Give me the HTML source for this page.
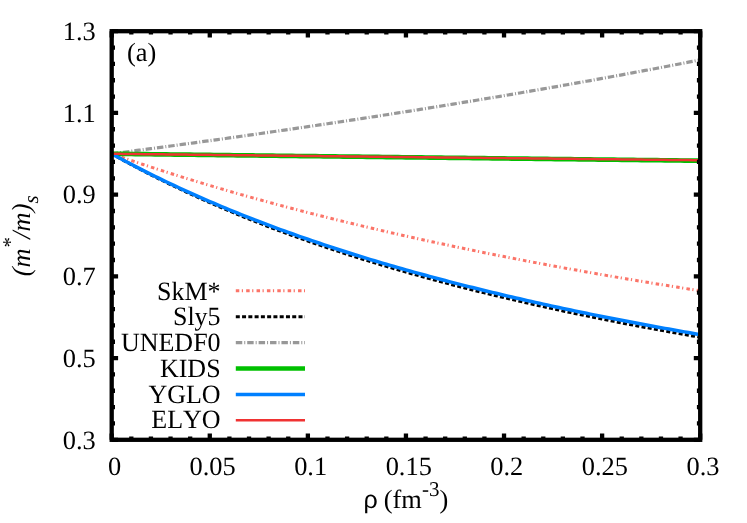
<!DOCTYPE html>
<html><head><meta charset="utf-8"><title>chart</title>
<style>
html,body{margin:0;padding:0;background:#fff;}
svg{display:block;will-change:transform;}
text{font-family:"Liberation Serif",serif;font-size:26.4px;fill:#000;text-rendering:geometricPrecision;font-kerning:none;}
.skm{stroke:#fb7468;stroke-width:3;stroke-dasharray:3.5 2.5 1.2 3.17;fill:none;}
.sly{stroke:#000;stroke-width:3.0;stroke-dasharray:4 2.29;fill:none;}
.une{stroke:#989898;stroke-width:3.2;stroke-dasharray:6.45 2 1 1.96;fill:none;}
.kid{stroke:#00c000;stroke-width:4.7;fill:none;}
.ygl{stroke:#0080ff;stroke-width:3.5;fill:none;}
.ely{stroke:#f03232;stroke-width:2.5;fill:none;}
.b{stroke:#000;stroke-width:4.3;fill:none;}
</style></head><body>
<svg width="747" height="523" viewBox="0 0 747 523">
<rect width="747" height="523" fill="#fff"/>
<defs><clipPath id="c"><rect x="111.70" y="31.20" width="588.50" height="408.60"/></clipPath></defs>
<g clip-path="url(#c)">
<path class="skm" d="M111.70,153.78 L115.62,155.15 L119.55,156.51 L123.47,157.86 L127.39,159.20 L131.32,160.54 L135.24,161.86 L139.16,163.17 L143.09,164.48 L147.01,165.78 L150.93,167.07 L154.86,168.35 L158.78,169.63 L162.70,170.89 L166.63,172.15 L170.55,173.40 L174.47,174.64 L178.40,175.87 L182.32,177.10 L186.24,178.31 L190.17,179.52 L194.09,180.73 L198.01,181.92 L201.94,183.11 L205.86,184.29 L209.78,185.46 L213.71,186.63 L217.63,187.78 L221.55,188.93 L225.48,190.08 L229.40,191.22 L233.32,192.35 L237.25,193.47 L241.17,194.59 L245.09,195.70 L249.02,196.80 L252.94,197.89 L256.86,198.98 L260.79,200.07 L264.71,201.14 L268.63,202.21 L272.56,203.28 L276.48,204.34 L280.40,205.39 L284.33,206.43 L288.25,207.47 L292.17,208.51 L296.10,209.53 L300.02,210.56 L303.94,211.57 L307.87,212.58 L311.79,213.59 L315.71,214.58 L319.64,215.58 L323.56,216.56 L327.48,217.54 L331.41,218.52 L335.33,219.49 L339.25,220.45 L343.18,221.41 L347.10,222.37 L351.02,223.32 L354.95,224.26 L358.87,225.20 L362.79,226.13 L366.72,227.06 L370.64,227.98 L374.56,228.90 L378.49,229.81 L382.41,230.72 L386.33,231.62 L390.26,232.52 L394.18,233.41 L398.10,234.30 L402.03,235.18 L405.95,236.06 L409.87,236.94 L413.80,237.80 L417.72,238.67 L421.64,239.53 L425.57,240.38 L429.49,241.23 L433.41,242.08 L437.34,242.92 L441.26,243.76 L445.18,244.59 L449.11,245.42 L453.03,246.25 L456.95,247.07 L460.88,247.88 L464.80,248.69 L468.72,249.50 L472.65,250.31 L476.57,251.11 L480.49,251.90 L484.42,252.69 L488.34,253.48 L492.26,254.26 L496.19,255.04 L500.11,255.82 L504.03,256.59 L507.96,257.35 L511.88,258.12 L515.80,258.88 L519.73,259.63 L523.65,260.39 L527.57,261.14 L531.50,261.88 L535.42,262.62 L539.34,263.36 L543.27,264.09 L547.19,264.82 L551.11,265.55 L555.04,266.27 L558.96,266.99 L562.88,267.71 L566.81,268.42 L570.73,269.13 L574.65,269.84 L578.58,270.54 L582.50,271.24 L586.42,271.93 L590.35,272.63 L594.27,273.32 L598.19,274.00 L602.12,274.68 L606.04,275.36 L609.96,276.04 L613.89,276.71 L617.81,277.38 L621.73,278.05 L625.66,278.71 L629.58,279.37 L633.50,280.03 L637.43,280.69 L641.35,281.34 L645.27,281.99 L649.20,282.63 L653.12,283.27 L657.04,283.91 L660.97,284.55 L664.89,285.18 L668.81,285.81 L672.74,286.44 L676.66,287.07 L680.58,287.69 L684.51,288.31 L688.43,288.93 L692.35,289.54 L696.28,290.15 L700.20,290.76"/>
<path class="sly" d="M111.70,153.78 L115.62,155.99 L119.55,158.17 L123.47,160.33 L127.39,162.47 L131.32,164.59 L135.24,166.68 L139.16,168.75 L143.09,170.80 L147.01,172.83 L150.93,174.84 L154.86,176.83 L158.78,178.79 L162.70,180.74 L166.63,182.67 L170.55,184.57 L174.47,186.46 L178.40,188.33 L182.32,190.19 L186.24,192.02 L190.17,193.83 L194.09,195.63 L198.01,197.41 L201.94,199.17 L205.86,200.92 L209.78,202.65 L213.71,204.36 L217.63,206.06 L221.55,207.74 L225.48,209.40 L229.40,211.05 L233.32,212.69 L237.25,214.31 L241.17,215.91 L245.09,217.50 L249.02,219.07 L252.94,220.63 L256.86,222.18 L260.79,223.71 L264.71,225.23 L268.63,226.74 L272.56,228.23 L276.48,229.71 L280.40,231.17 L284.33,232.62 L288.25,234.06 L292.17,235.49 L296.10,236.91 L300.02,238.31 L303.94,239.70 L307.87,241.08 L311.79,242.44 L315.71,243.80 L319.64,245.14 L323.56,246.48 L327.48,247.80 L331.41,249.11 L335.33,250.41 L339.25,251.70 L343.18,252.98 L347.10,254.24 L351.02,255.50 L354.95,256.75 L358.87,257.99 L362.79,259.21 L366.72,260.43 L370.64,261.64 L374.56,262.84 L378.49,264.03 L382.41,265.20 L386.33,266.37 L390.26,267.54 L394.18,268.69 L398.10,269.83 L402.03,270.96 L405.95,272.09 L409.87,273.20 L413.80,274.31 L417.72,275.41 L421.64,276.50 L425.57,277.59 L429.49,278.66 L433.41,279.73 L437.34,280.79 L441.26,281.84 L445.18,282.88 L449.11,283.91 L453.03,284.94 L456.95,285.96 L460.88,286.97 L464.80,287.98 L468.72,288.98 L472.65,289.97 L476.57,290.95 L480.49,291.93 L484.42,292.90 L488.34,293.86 L492.26,294.81 L496.19,295.76 L500.11,296.70 L504.03,297.64 L507.96,298.57 L511.88,299.49 L515.80,300.41 L519.73,301.32 L523.65,302.22 L527.57,303.12 L531.50,304.01 L535.42,304.89 L539.34,305.77 L543.27,306.64 L547.19,307.51 L551.11,308.37 L555.04,309.23 L558.96,310.08 L562.88,310.92 L566.81,311.76 L570.73,312.59 L574.65,313.42 L578.58,314.24 L582.50,315.06 L586.42,315.87 L590.35,316.67 L594.27,317.47 L598.19,318.27 L602.12,319.06 L606.04,319.84 L609.96,320.62 L613.89,321.40 L617.81,322.17 L621.73,322.93 L625.66,323.69 L629.58,324.45 L633.50,325.20 L637.43,325.94 L641.35,326.68 L645.27,327.42 L649.20,328.15 L653.12,328.88 L657.04,329.60 L660.97,330.32 L664.89,331.04 L668.81,331.74 L672.74,332.45 L676.66,333.15 L680.58,333.85 L684.51,334.54 L688.43,335.23 L692.35,335.91 L696.28,336.59 L700.20,337.27"/>
<path class="une" d="M111.70,153.78 L115.62,153.27 L119.55,152.76 L123.47,152.25 L127.39,151.73 L131.32,151.22 L135.24,150.70 L139.16,150.19 L143.09,149.67 L147.01,149.15 L150.93,148.63 L154.86,148.10 L158.78,147.58 L162.70,147.05 L166.63,146.53 L170.55,146.00 L174.47,145.47 L178.40,144.94 L182.32,144.41 L186.24,143.87 L190.17,143.34 L194.09,142.80 L198.01,142.27 L201.94,141.73 L205.86,141.19 L209.78,140.65 L213.71,140.10 L217.63,139.56 L221.55,139.01 L225.48,138.46 L229.40,137.92 L233.32,137.37 L237.25,136.81 L241.17,136.26 L245.09,135.71 L249.02,135.15 L252.94,134.59 L256.86,134.04 L260.79,133.48 L264.71,132.91 L268.63,132.35 L272.56,131.79 L276.48,131.22 L280.40,130.65 L284.33,130.08 L288.25,129.51 L292.17,128.94 L296.10,128.37 L300.02,127.79 L303.94,127.22 L307.87,126.64 L311.79,126.06 L315.71,125.48 L319.64,124.89 L323.56,124.31 L327.48,123.72 L331.41,123.14 L335.33,122.55 L339.25,121.96 L343.18,121.36 L347.10,120.77 L351.02,120.18 L354.95,119.58 L358.87,118.98 L362.79,118.38 L366.72,117.78 L370.64,117.17 L374.56,116.57 L378.49,115.96 L382.41,115.35 L386.33,114.74 L390.26,114.13 L394.18,113.52 L398.10,112.90 L402.03,112.29 L405.95,111.67 L409.87,111.05 L413.80,110.43 L417.72,109.80 L421.64,109.18 L425.57,108.55 L429.49,107.92 L433.41,107.29 L437.34,106.66 L441.26,106.02 L445.18,105.39 L449.11,104.75 L453.03,104.11 L456.95,103.47 L460.88,102.83 L464.80,102.18 L468.72,101.54 L472.65,100.89 L476.57,100.24 L480.49,99.58 L484.42,98.93 L488.34,98.27 L492.26,97.62 L496.19,96.96 L500.11,96.30 L504.03,95.63 L507.96,94.97 L511.88,94.30 L515.80,93.63 L519.73,92.96 L523.65,92.29 L527.57,91.61 L531.50,90.94 L535.42,90.26 L539.34,89.58 L543.27,88.89 L547.19,88.21 L551.11,87.52 L555.04,86.83 L558.96,86.14 L562.88,85.45 L566.81,84.76 L570.73,84.06 L574.65,83.36 L578.58,82.66 L582.50,81.96 L586.42,81.25 L590.35,80.55 L594.27,79.84 L598.19,79.13 L602.12,78.41 L606.04,77.70 L609.96,76.98 L613.89,76.26 L617.81,75.54 L621.73,74.82 L625.66,74.09 L629.58,73.36 L633.50,72.63 L637.43,71.90 L641.35,71.17 L645.27,70.43 L649.20,69.69 L653.12,68.95 L657.04,68.21 L660.97,67.46 L664.89,66.71 L668.81,65.96 L672.74,65.21 L676.66,64.45 L680.58,63.70 L684.51,62.94 L688.43,62.18 L692.35,61.41 L696.28,60.65 L700.20,59.88"/>
<path class="kid" d="M111.70,153.78 L115.62,153.83 L119.55,153.87 L123.47,153.92 L127.39,153.97 L131.32,154.02 L135.24,154.06 L139.16,154.11 L143.09,154.16 L147.01,154.20 L150.93,154.25 L154.86,154.30 L158.78,154.34 L162.70,154.39 L166.63,154.44 L170.55,154.48 L174.47,154.53 L178.40,154.58 L182.32,154.63 L186.24,154.67 L190.17,154.72 L194.09,154.77 L198.01,154.81 L201.94,154.86 L205.86,154.91 L209.78,154.95 L213.71,155.00 L217.63,155.05 L221.55,155.09 L225.48,155.14 L229.40,155.19 L233.32,155.23 L237.25,155.28 L241.17,155.33 L245.09,155.37 L249.02,155.42 L252.94,155.47 L256.86,155.51 L260.79,155.56 L264.71,155.61 L268.63,155.65 L272.56,155.70 L276.48,155.75 L280.40,155.79 L284.33,155.84 L288.25,155.89 L292.17,155.93 L296.10,155.98 L300.02,156.03 L303.94,156.07 L307.87,156.12 L311.79,156.17 L315.71,156.21 L319.64,156.26 L323.56,156.31 L327.48,156.35 L331.41,156.40 L335.33,156.45 L339.25,156.49 L343.18,156.54 L347.10,156.58 L351.02,156.63 L354.95,156.68 L358.87,156.72 L362.79,156.77 L366.72,156.82 L370.64,156.86 L374.56,156.91 L378.49,156.96 L382.41,157.00 L386.33,157.05 L390.26,157.09 L394.18,157.14 L398.10,157.19 L402.03,157.23 L405.95,157.28 L409.87,157.33 L413.80,157.37 L417.72,157.42 L421.64,157.47 L425.57,157.51 L429.49,157.56 L433.41,157.60 L437.34,157.65 L441.26,157.70 L445.18,157.74 L449.11,157.79 L453.03,157.83 L456.95,157.88 L460.88,157.93 L464.80,157.97 L468.72,158.02 L472.65,158.07 L476.57,158.11 L480.49,158.16 L484.42,158.20 L488.34,158.25 L492.26,158.30 L496.19,158.34 L500.11,158.39 L504.03,158.43 L507.96,158.48 L511.88,158.53 L515.80,158.57 L519.73,158.62 L523.65,158.66 L527.57,158.71 L531.50,158.76 L535.42,158.80 L539.34,158.85 L543.27,158.89 L547.19,158.94 L551.11,158.98 L555.04,159.03 L558.96,159.08 L562.88,159.12 L566.81,159.17 L570.73,159.21 L574.65,159.26 L578.58,159.31 L582.50,159.35 L586.42,159.40 L590.35,159.44 L594.27,159.49 L598.19,159.53 L602.12,159.58 L606.04,159.63 L609.96,159.67 L613.89,159.72 L617.81,159.76 L621.73,159.81 L625.66,159.85 L629.58,159.90 L633.50,159.95 L637.43,159.99 L641.35,160.04 L645.27,160.08 L649.20,160.13 L653.12,160.17 L657.04,160.22 L660.97,160.27 L664.89,160.31 L668.81,160.36 L672.74,160.40 L676.66,160.45 L680.58,160.49 L684.51,160.54 L688.43,160.58 L692.35,160.63 L696.28,160.68 L700.20,160.72"/>
<path class="ygl" d="M111.70,153.78 L115.62,155.93 L119.55,158.06 L123.47,160.17 L127.39,162.25 L131.32,164.31 L135.24,166.35 L139.16,168.38 L143.09,170.38 L147.01,172.36 L150.93,174.32 L154.86,176.26 L158.78,178.18 L162.70,180.08 L166.63,181.96 L170.55,183.83 L174.47,185.68 L178.40,187.51 L182.32,189.32 L186.24,191.11 L190.17,192.89 L194.09,194.65 L198.01,196.39 L201.94,198.12 L205.86,199.83 L209.78,201.52 L213.71,203.20 L217.63,204.86 L221.55,206.51 L225.48,208.14 L229.40,209.76 L233.32,211.36 L237.25,212.95 L241.17,214.53 L245.09,216.09 L249.02,217.63 L252.94,219.17 L256.86,220.69 L260.79,222.19 L264.71,223.68 L268.63,225.16 L272.56,226.63 L276.48,228.08 L280.40,229.52 L284.33,230.95 L288.25,232.37 L292.17,233.77 L296.10,235.17 L300.02,236.55 L303.94,237.92 L307.87,239.27 L311.79,240.62 L315.71,241.96 L319.64,243.28 L323.56,244.59 L327.48,245.90 L331.41,247.19 L335.33,248.47 L339.25,249.74 L343.18,251.00 L347.10,252.25 L351.02,253.49 L354.95,254.72 L358.87,255.94 L362.79,257.16 L366.72,258.36 L370.64,259.55 L374.56,260.73 L378.49,261.91 L382.41,263.07 L386.33,264.23 L390.26,265.37 L394.18,266.51 L398.10,267.64 L402.03,268.76 L405.95,269.88 L409.87,270.98 L413.80,272.07 L417.72,273.16 L421.64,274.24 L425.57,275.31 L429.49,276.38 L433.41,277.43 L437.34,278.48 L441.26,279.52 L445.18,280.55 L449.11,281.58 L453.03,282.59 L456.95,283.60 L460.88,284.61 L464.80,285.60 L468.72,286.59 L472.65,287.57 L476.57,288.55 L480.49,289.52 L484.42,290.48 L488.34,291.43 L492.26,292.38 L496.19,293.32 L500.11,294.25 L504.03,295.18 L507.96,296.10 L511.88,297.02 L515.80,297.93 L519.73,298.83 L523.65,299.73 L527.57,300.62 L531.50,301.50 L535.42,302.38 L539.34,303.25 L543.27,304.12 L547.19,304.98 L551.11,305.84 L555.04,306.68 L558.96,307.53 L562.88,308.37 L566.81,309.20 L570.73,310.03 L574.65,310.85 L578.58,311.67 L582.50,312.48 L586.42,313.28 L590.35,314.09 L594.27,314.88 L598.19,315.67 L602.12,316.46 L606.04,317.24 L609.96,318.01 L613.89,318.79 L617.81,319.55 L621.73,320.31 L625.66,321.07 L629.58,321.82 L633.50,322.57 L637.43,323.31 L641.35,324.05 L645.27,324.78 L649.20,325.51 L653.12,326.24 L657.04,326.96 L660.97,327.67 L664.89,328.38 L668.81,329.09 L672.74,329.79 L676.66,330.49 L680.58,331.19 L684.51,331.88 L688.43,332.56 L692.35,333.24 L696.28,333.92 L700.20,334.60"/>
<path class="ely" d="M111.70,153.78 L115.62,153.82 L119.55,153.87 L123.47,153.91 L127.39,153.95 L131.32,154.00 L135.24,154.04 L139.16,154.09 L143.09,154.13 L147.01,154.17 L150.93,154.22 L154.86,154.26 L158.78,154.30 L162.70,154.35 L166.63,154.39 L170.55,154.43 L174.47,154.48 L178.40,154.52 L182.32,154.57 L186.24,154.61 L190.17,154.65 L194.09,154.70 L198.01,154.74 L201.94,154.78 L205.86,154.83 L209.78,154.87 L213.71,154.91 L217.63,154.96 L221.55,155.00 L225.48,155.04 L229.40,155.09 L233.32,155.13 L237.25,155.17 L241.17,155.22 L245.09,155.26 L249.02,155.30 L252.94,155.35 L256.86,155.39 L260.79,155.43 L264.71,155.48 L268.63,155.52 L272.56,155.56 L276.48,155.61 L280.40,155.65 L284.33,155.69 L288.25,155.74 L292.17,155.78 L296.10,155.82 L300.02,155.87 L303.94,155.91 L307.87,155.95 L311.79,156.00 L315.71,156.04 L319.64,156.08 L323.56,156.13 L327.48,156.17 L331.41,156.21 L335.33,156.26 L339.25,156.30 L343.18,156.34 L347.10,156.39 L351.02,156.43 L354.95,156.47 L358.87,156.52 L362.79,156.56 L366.72,156.60 L370.64,156.65 L374.56,156.69 L378.49,156.73 L382.41,156.77 L386.33,156.82 L390.26,156.86 L394.18,156.90 L398.10,156.95 L402.03,156.99 L405.95,157.03 L409.87,157.08 L413.80,157.12 L417.72,157.16 L421.64,157.20 L425.57,157.25 L429.49,157.29 L433.41,157.33 L437.34,157.38 L441.26,157.42 L445.18,157.46 L449.11,157.51 L453.03,157.55 L456.95,157.59 L460.88,157.63 L464.80,157.68 L468.72,157.72 L472.65,157.76 L476.57,157.81 L480.49,157.85 L484.42,157.89 L488.34,157.93 L492.26,157.98 L496.19,158.02 L500.11,158.06 L504.03,158.11 L507.96,158.15 L511.88,158.19 L515.80,158.23 L519.73,158.28 L523.65,158.32 L527.57,158.36 L531.50,158.41 L535.42,158.45 L539.34,158.49 L543.27,158.53 L547.19,158.58 L551.11,158.62 L555.04,158.66 L558.96,158.70 L562.88,158.75 L566.81,158.79 L570.73,158.83 L574.65,158.87 L578.58,158.92 L582.50,158.96 L586.42,159.00 L590.35,159.05 L594.27,159.09 L598.19,159.13 L602.12,159.17 L606.04,159.22 L609.96,159.26 L613.89,159.30 L617.81,159.34 L621.73,159.39 L625.66,159.43 L629.58,159.47 L633.50,159.51 L637.43,159.56 L641.35,159.60 L645.27,159.64 L649.20,159.68 L653.12,159.73 L657.04,159.77 L660.97,159.81 L664.89,159.85 L668.81,159.90 L672.74,159.94 L676.66,159.98 L680.58,160.02 L684.51,160.06 L688.43,160.11 L692.35,160.15 L696.28,160.19 L700.20,160.23"/>
</g>
<path class="skm" d="M235.8,290.70 L305,290.70"/>
<text transform="translate(220.6,299.75) scale(0.985,1)" text-anchor="end">SkM*</text>
<path class="sly" style="stroke-dasharray:4 2.27" d="M235.8,316.63 L305,316.63"/>
<text transform="translate(220.6,325.47) scale(0.985,1)" text-anchor="end">Sly5</text>
<path class="une" d="M235.8,342.56 L305,342.56"/>
<text transform="translate(220.6,351.19) scale(0.985,1)" text-anchor="end">UNEDF0</text>
<path class="kid" d="M235.8,368.49 L305,368.49"/>
<text transform="translate(220.6,376.91) scale(0.985,1)" text-anchor="end">KIDS</text>
<path class="ygl" d="M235.8,394.42 L305,394.42"/>
<text transform="translate(220.6,402.63) scale(0.985,1)" text-anchor="end">YGLO</text>
<path class="ely" d="M235.8,420.35 L305,420.35"/>
<text transform="translate(220.6,428.35) scale(0.985,1)" text-anchor="end">ELYO</text>
<path class="b" d="M111.70,439.8 v-6.4 M111.70,31.2 v6.4 M131.32,439.8 v-3.3 M131.32,31.2 v3.3 M150.93,439.8 v-3.3 M150.93,31.2 v3.3 M170.55,439.8 v-3.3 M170.55,31.2 v3.3 M190.17,439.8 v-3.3 M190.17,31.2 v3.3 M209.78,439.8 v-6.4 M209.78,31.2 v6.4 M229.40,439.8 v-3.3 M229.40,31.2 v3.3 M249.02,439.8 v-3.3 M249.02,31.2 v3.3 M268.63,439.8 v-3.3 M268.63,31.2 v3.3 M288.25,439.8 v-3.3 M288.25,31.2 v3.3 M307.87,439.8 v-6.4 M307.87,31.2 v6.4 M327.48,439.8 v-3.3 M327.48,31.2 v3.3 M347.10,439.8 v-3.3 M347.10,31.2 v3.3 M366.72,439.8 v-3.3 M366.72,31.2 v3.3 M386.33,439.8 v-3.3 M386.33,31.2 v3.3 M405.95,439.8 v-6.4 M405.95,31.2 v6.4 M425.57,439.8 v-3.3 M425.57,31.2 v3.3 M445.18,439.8 v-3.3 M445.18,31.2 v3.3 M464.80,439.8 v-3.3 M464.80,31.2 v3.3 M484.42,439.8 v-3.3 M484.42,31.2 v3.3 M504.03,439.8 v-6.4 M504.03,31.2 v6.4 M523.65,439.8 v-3.3 M523.65,31.2 v3.3 M543.27,439.8 v-3.3 M543.27,31.2 v3.3 M562.88,439.8 v-3.3 M562.88,31.2 v3.3 M582.50,439.8 v-3.3 M582.50,31.2 v3.3 M602.12,439.8 v-6.4 M602.12,31.2 v6.4 M621.73,439.8 v-3.3 M621.73,31.2 v3.3 M641.35,439.8 v-3.3 M641.35,31.2 v3.3 M660.97,439.8 v-3.3 M660.97,31.2 v3.3 M680.58,439.8 v-3.3 M680.58,31.2 v3.3 M700.20,439.8 v-6.4 M700.20,31.2 v6.4 M111.7,439.80 h6.4 M700.2,439.80 h-6.4 M111.7,423.46 h3.3 M700.2,423.46 h-3.3 M111.7,407.11 h3.3 M700.2,407.11 h-3.3 M111.7,390.77 h3.3 M700.2,390.77 h-3.3 M111.7,374.42 h3.3 M700.2,374.42 h-3.3 M111.7,358.08 h6.4 M700.2,358.08 h-6.4 M111.7,341.74 h3.3 M700.2,341.74 h-3.3 M111.7,325.39 h3.3 M700.2,325.39 h-3.3 M111.7,309.05 h3.3 M700.2,309.05 h-3.3 M111.7,292.70 h3.3 M700.2,292.70 h-3.3 M111.7,276.36 h6.4 M700.2,276.36 h-6.4 M111.7,260.02 h3.3 M700.2,260.02 h-3.3 M111.7,243.67 h3.3 M700.2,243.67 h-3.3 M111.7,227.33 h3.3 M700.2,227.33 h-3.3 M111.7,210.98 h3.3 M700.2,210.98 h-3.3 M111.7,194.64 h6.4 M700.2,194.64 h-6.4 M111.7,178.30 h3.3 M700.2,178.30 h-3.3 M111.7,161.95 h3.3 M700.2,161.95 h-3.3 M111.7,145.61 h3.3 M700.2,145.61 h-3.3 M111.7,129.26 h3.3 M700.2,129.26 h-3.3 M111.7,112.92 h6.4 M700.2,112.92 h-6.4 M111.7,96.58 h3.3 M700.2,96.58 h-3.3 M111.7,80.23 h3.3 M700.2,80.23 h-3.3 M111.7,63.89 h3.3 M700.2,63.89 h-3.3 M111.7,47.54 h3.3 M700.2,47.54 h-3.3 M111.7,31.20 h6.4 M700.2,31.20 h-6.4"/>
<rect class="b" x="111.7" y="31.2" width="588.50" height="408.60"/>
<text x="95.8" y="448.60" text-anchor="end">0.3</text>
<text x="95.8" y="366.88" text-anchor="end">0.5</text>
<text x="95.8" y="285.16" text-anchor="end">0.7</text>
<text x="95.8" y="203.44" text-anchor="end">0.9</text>
<text x="95.8" y="121.72" text-anchor="end">1.1</text>
<text x="95.8" y="40.00" text-anchor="end">1.3</text>
<text x="114.50" y="474.7" text-anchor="middle">0</text>
<text x="212.58" y="474.7" text-anchor="middle">0.05</text>
<text x="310.67" y="474.7" text-anchor="middle">0.1</text>
<text x="408.75" y="474.7" text-anchor="middle">0.15</text>
<text x="506.83" y="474.7" text-anchor="middle">0.2</text>
<text x="604.92" y="474.7" text-anchor="middle">0.25</text>
<text x="703.00" y="474.7" text-anchor="middle">0.3</text>
<text x="126.9" y="60.7">(a)</text>
<text x="363.6" y="508"><tspan style="font-family:'Liberation Sans',sans-serif;font-size:25px">ρ</tspan><tspan x="383.8">(fm</tspan><tspan dy="-12.1" style="font-size:21px">-3</tspan><tspan dy="12.1">)</tspan></text>
<text transform="translate(29.7,276.3) rotate(-90)" style="font-style:italic">(m<tspan dy="-13" style="font-size:21px">*</tspan><tspan dy="13" dx="-0.8">/m)</tspan><tspan dy="8.3" style="font-size:21px">s</tspan></text>
</svg></body></html>
